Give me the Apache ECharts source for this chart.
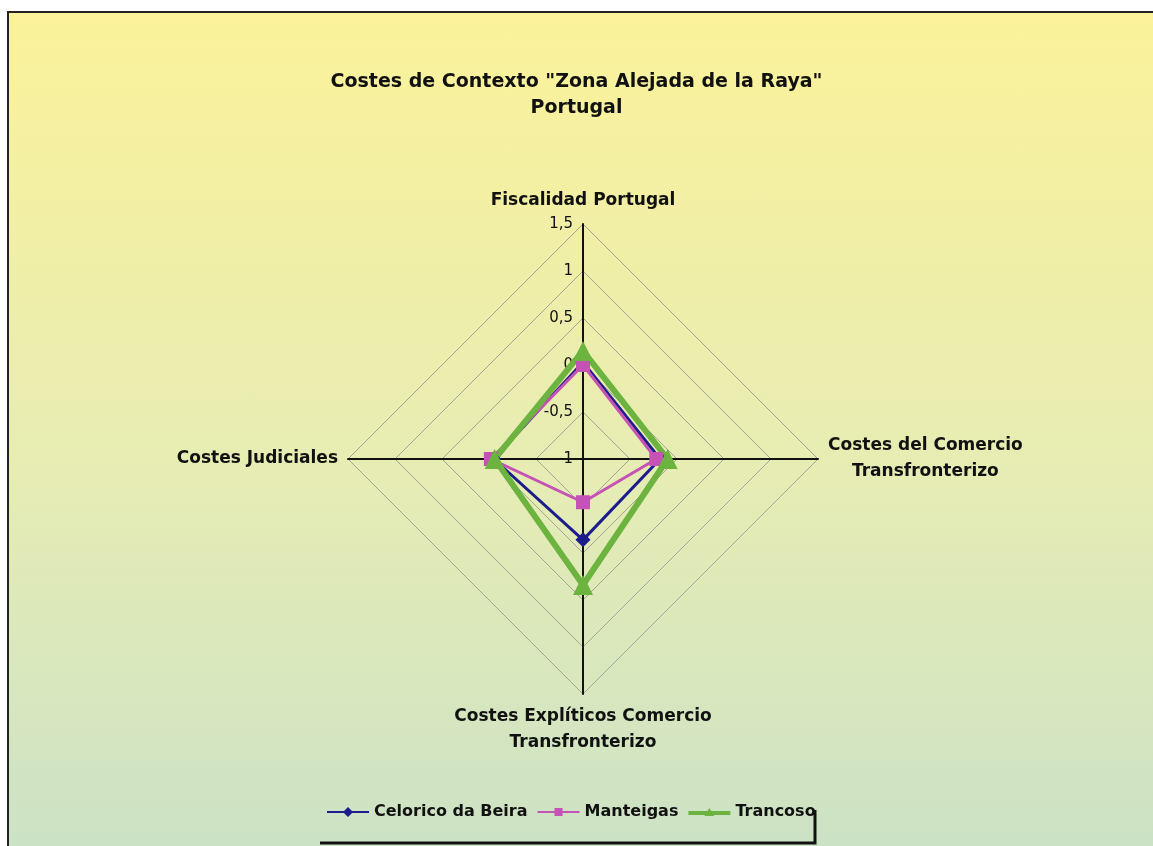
<!DOCTYPE html>
<html>
<head>
<meta charset="utf-8">
<script src="https://cdn.jsdelivr.net/npm/echarts@6/dist/echarts.min.js"></script>
<style>
    html, body { margin: 0; padding: 0; background: #fff; overflow: hidden; }
    .frame {
        position: absolute; left: 7px; top: 11px; width: 1160px; height: 850px;
        border: 2px solid #222;
        background: linear-gradient(to bottom, #fbf29a 0%, #e6ecb4 55%, #cbe2c6 100%);
    }
    #chart { position: absolute; left: 0; top: 0; width: 1153px; height: 846px; }
</style>
</head>
<body>
<div class="frame"></div>
<div id="chart"></div>
<script>
    // indicator order as ECharts lays them out (counter-clockwise from the top)
    const categories = [
        'Fiscalidad Portugal',
        'Costes Judiciales',
        'Costes Explíticos Comercio\nTransfronterizo',
        'Costes del Comercio\nTransfronterizo'
    ]
    const seriesNames = ['Celorico da Beira', 'Manteigas', 'Trancoso']
    const celoricoData = [0.03, -0.05, -0.14, -0.18]
    const manteigasData = [0.0, -0.02, -0.54, -0.22]
    const trancosoData = [0.15, -0.06, 0.34, -0.1]
    const axisMin = -1
    const axisMax = 1.5

    const chartInstance = echarts.init(document.getElementById('chart'))

    const font = 'DejaVu Sans, Liberation Sans, Arial'
    const lineColors = ['#1c1c8c', '#c552b5', '#6db33f']
    const symbols = ['diamond', 'rect', 'triangle']
    const symbolSizes = [15, 14, 20]
    const lineWidths = [3, 3, 6]
    // legend icons: line with the marker in the middle (42 x 12 box)
    const legendIcons = [
        'path://M0,5L42,5L42,7L0,7Z M21,1L26,6L21,11L16,6Z',
        'path://M0,5L42,5L42,7L0,7Z M17,2L25,2L25,10L17,10Z',
        'path://M0,4L42,4L42,8L0,8Z M21,1L26,9L16,9Z'
    ]
    const allData = [celoricoData, manteigasData, trancosoData]

    const nameStyle = {
        color: '#111',
        fontFamily: font,
        fontSize: 17,
        fontWeight: 'bold',
        lineHeight: 26,
        align: 'center'
    }

    const option = {
        backgroundColor: 'transparent',
        title: {
            text: 'Costes de Contexto "Zona Alejada de la Raya"\nPortugal',
            left: 'center',
            top: 64,
            textStyle: {
                fontFamily: font,
                fontSize: 19,
                fontWeight: 'bold',
                color: '#111',
                lineHeight: 26
            }
        },
        legend: {
            data: seriesNames.map((name, i) => ({ name: name, icon: legendIcons[i] })),
            left: 322,
            top: 799,
            itemWidth: 42,
            itemHeight: 12,
            itemGap: 10,
            textStyle: {
                fontFamily: font,
                fontSize: 16,
                fontWeight: 'bold',
                color: '#111'
            }
        },
        radar: {
            center: [583, 459],
            radius: 235,
            startAngle: 90,
            shape: 'polygon',
            splitNumber: 5,
            nameGap: 10,
            axisName: {
                color: '#111',
                fontFamily: font,
                fontSize: 17,
                fontWeight: 'bold',
                lineHeight: 26,
                // center each line of a two-line name
                formatter: name => name.split('\n').map(s => '{c|' + s + '}').join('\n'),
                rich: { c: nameStyle }
            },
            indicator: categories.map((name, i) => ({
                name: name,
                min: axisMin,
                max: axisMax,
                axisLabel: { show: i === 0 }
            })),
            axisLine: { lineStyle: { color: '#111', width: 2 } },
            splitLine: { lineStyle: { color: '#a4a494', width: 1 } },
            splitArea: { show: false },
            axisTick: { show: false },
            axisLabel: {
                color: '#111',
                fontFamily: font,
                fontSize: 15,
                margin: 10,
                formatter: v => String(v).replace('.', ',')
            }
        },
        series: [{
            type: 'radar',
            data: allData.map((vals, i) => ({
                name: seriesNames[i],
                value: vals,
                symbol: symbols[i],
                symbolSize: symbolSizes[i],
                lineStyle: { color: lineColors[i], width: lineWidths[i] },
                itemStyle: { color: lineColors[i] }
            }))
        }],
        color: lineColors,
        graphic: [{
            type: 'polyline',
            shape: { points: [[815, 810], [815, 843], [320, 843]] },
            style: { stroke: '#111', lineWidth: 3, fill: null },
            silent: true
        }]
    }
    chartInstance.setOption(option)
</script>
</body>
</html>
